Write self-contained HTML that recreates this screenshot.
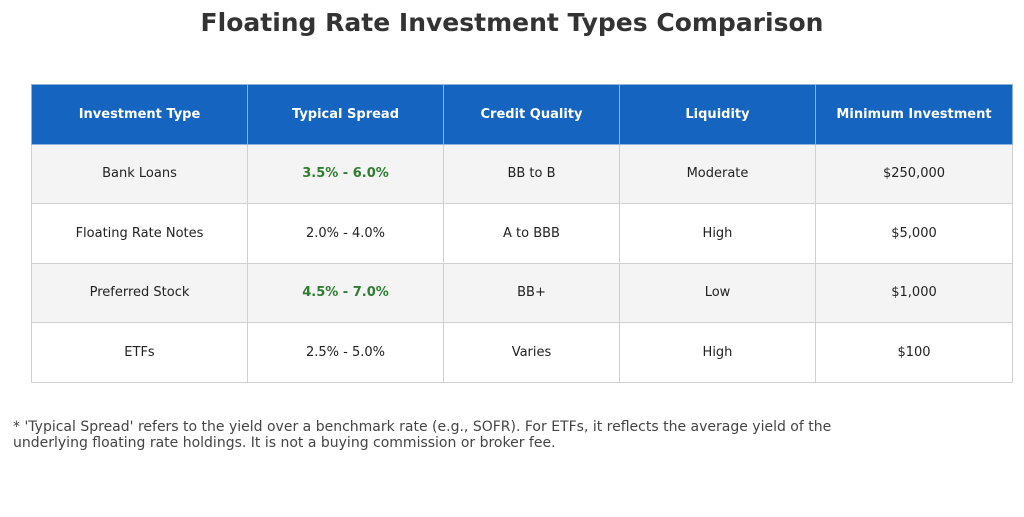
<!DOCTYPE html>
<html><head><meta charset="utf-8"><style>
body{margin:0;width:1024px;height:517px;background:#fff;font-family:"DejaVu Sans","Liberation Sans",sans-serif;position:relative;overflow:hidden}
h1{position:absolute;top:8px;left:0;width:1024px;text-align:center;margin:0;font-size:25px;font-weight:bold;color:#333}
table{position:absolute;left:31px;top:84px;border-collapse:collapse;width:981px;table-layout:fixed}
td,th{border:1px solid #d0d0d0;text-align:center;font-size:13px;color:#222;height:58.5px;padding:0}
th{background:#1565c0;color:#fff;font-weight:bold;border-color:#8fb3e0}
tr.alt td{background:#f4f4f4}
.g{color:#2e7d32;font-weight:bold}
.note{position:absolute;left:13px;top:419px;font-size:14px;color:#444;line-height:16px;width:820px}
</style></head><body>
<h1>Floating Rate Investment Types Comparison</h1>
<table>
<colgroup><col style="width:216px"><col style="width:196px"><col style="width:176px"><col style="width:196px"><col style="width:197px"></colgroup>
<tr><th>Investment Type</th><th>Typical Spread</th><th>Credit Quality</th><th>Liquidity</th><th>Minimum Investment</th></tr>
<tr class="alt"><td>Bank Loans</td><td class="g">3.5% - 6.0%</td><td>BB to B</td><td>Moderate</td><td>$250,000</td></tr>
<tr><td>Floating Rate Notes</td><td>2.0% - 4.0%</td><td>A to BBB</td><td>High</td><td>$5,000</td></tr>
<tr class="alt"><td>Preferred Stock</td><td class="g">4.5% - 7.0%</td><td>BB+</td><td>Low</td><td>$1,000</td></tr>
<tr><td>ETFs</td><td>2.5% - 5.0%</td><td>Varies</td><td>High</td><td>$100</td></tr>
</table>
<div class="note">* 'Typical Spread' refers to the yield over a benchmark rate (e.g., SOFR). For ETFs, it reflects the average yield of the underlying floating rate holdings. It is not a buying commission or broker fee.</div>
</body></html>
